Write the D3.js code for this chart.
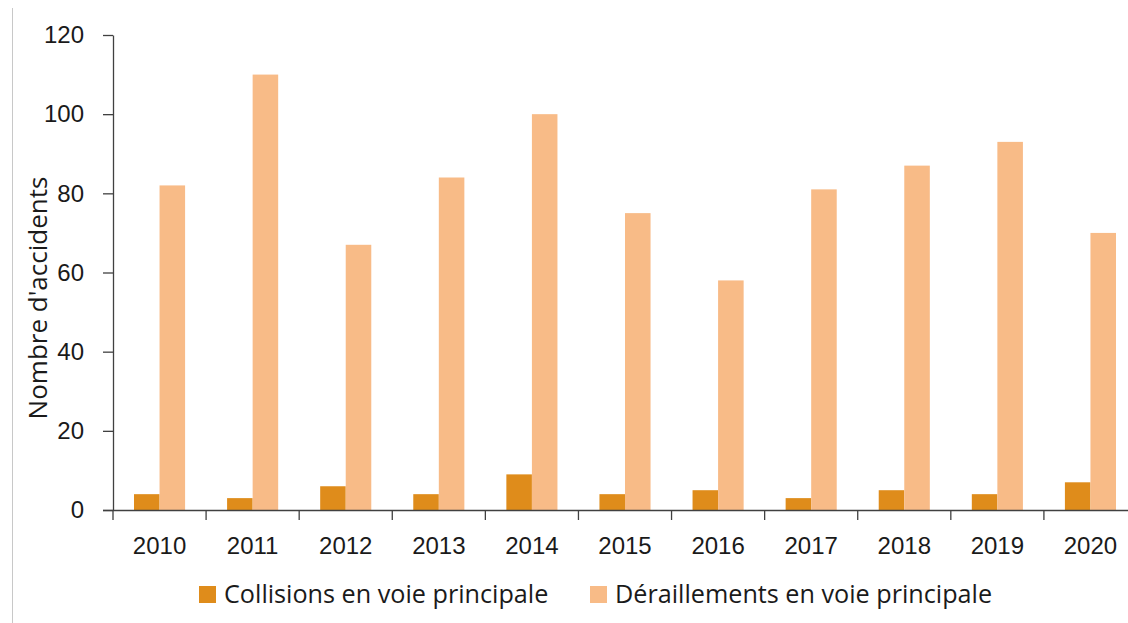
<!DOCTYPE html>
<html>
  <head>
    <meta charset="utf-8">
    <title>Accidents en voie principale</title>
    <script src="https://d3js.org/d3.v7.min.js"></script>
    <style>
      body { margin: 0; background: #fff; }
      svg { font-family: "Open Sans", "Noto Sans", sans-serif; }
      .axis text { font-size: 24px; fill: #1a1a1a; }
      .axis path, .axis line { stroke: #404040; stroke-width: 1.3; }
    </style>
  </head>
  <body>
    <script>
      var years = ["2010","2011","2012","2013","2014","2015","2016","2017","2018","2019","2020"];
      var collisions = [4, 3, 6, 4, 9, 4, 5, 3, 5, 4, 7];
      var derailments = [82, 110, 67, 84, 100, 75, 58, 81, 87, 93, 70];
      var seriesNames = ["Collisions en voie principale", "Déraillements en voie principale"];
      var seriesColors = ["#df8c1b", "#f8bb87"];
      var yTicks = [0, 20, 40, 60, 80, 100, 120];

      var width = 1128;
      var height = 623;
      var margin = {top: 35, left: 113, right: -9, bottom: 113};

      var svg = d3.select("body")
        .append("svg")
        .attr("width", width)
        .attr("height", height);

      // thin frame line on the left
      svg.append("line")
        .attr("x1", 12.5).attr("x2", 12.5)
        .attr("y1", 8).attr("y2", height)
        .attr("stroke", "#c8c8c8")
        .attr("stroke-width", 1);

      var xScale = d3.scaleBand()
        .domain(years)
        .range([margin.left, width - margin.right])
        .paddingInner(0)
        .paddingOuter(0);

      var inner = d3.scaleBand()
        .domain([0, 1])
        .range([21, xScale.bandwidth() - 21]);

      var yScale = d3.scaleLinear()
        .domain([0, 120])
        .range([height - margin.bottom, margin.top]);

      var rows = years.map(function(y, i) {
        return {year: y, values: [collisions[i], derailments[i]]};
      });

      var groups = svg.selectAll("g.year")
        .data(rows)
        .enter()
        .append("g")
          .attr("class", "year")
          .attr("transform", function(d) { return `translate(${xScale(d.year)},0)`; });

      groups.selectAll("rect")
        .data(function(d) { return d.values.map(function(v, k) { return {k: k, v: v}; }); })
        .enter()
        .append("rect")
          .attr("x", function(d) { return inner(d.k); })
          .attr("y", function(d) { return yScale(d.v); })
          .attr("width", inner.bandwidth())
          .attr("height", function(d) { return yScale(0) - yScale(d.v); })
          .attr("fill", function(d) { return seriesColors[d.k]; });

      var xAxis = svg.append("g")
        .attr("class", "axis")
        .attr("transform", `translate(0,${yScale(0)})`)
        .call(d3.axisBottom(xScale).tickSize(0).tickPadding(27));
      xAxis.select(".domain").attr("d", `M${margin.left - 10},0.5H${width}`);

      // tick marks sit on the category boundaries
      xAxis.selectAll("line.sep")
        .data(years)
        .enter()
        .append("line")
          .attr("class", "sep")
          .attr("x1", function(d) { return xScale(d); })
          .attr("x2", function(d) { return xScale(d); })
          .attr("y1", 0)
          .attr("y2", 10);

      var yAxis = svg.append("g")
        .attr("class", "axis")
        .attr("transform", `translate(${margin.left},0)`)
        .call(d3.axisLeft(yScale).tickValues(yTicks).tickSize(10).tickSizeOuter(0).tickPadding(19));

      svg.append("text")
        .attr("transform", "rotate(-90)")
        .attr("x", -298)
        .attr("y", 47)
        .attr("text-anchor", "middle")
        .attr("font-size", "26px")
        .attr("fill", "#1a1a1a")
        .text("Nombre d'accidents");

      var legendX = [199, 590];
      var legend = svg.selectAll("g.legend")
        .data(seriesNames)
        .enter()
        .append("g")
          .attr("class", "legend")
          .attr("transform", function(d, i) { return `translate(${legendX[i]},586)`; });

      legend.append("rect")
        .attr("width", 17)
        .attr("height", 17)
        .attr("fill", function(d, i) { return seriesColors[i]; });

      legend.append("text")
        .attr("x", 25)
        .attr("y", 17)
        .attr("font-size", "25.2px")
        .attr("fill", "#1a1a1a")
        .text(function(d) { return d; });
    </script>
  </body>
</html>
